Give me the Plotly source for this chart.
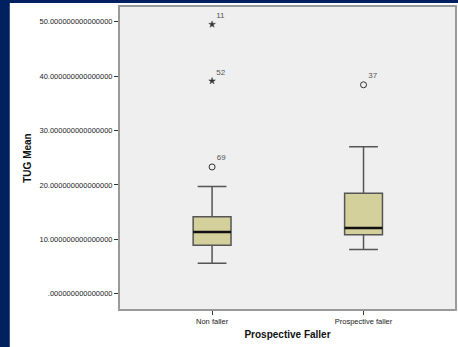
import plotly.graph_objects as go

categories = ["Non faller", "Prospective faller"]
q1 = [8.9, 10.85]
median = [11.35, 12.1]
q3 = [14.15, 18.45]
lower_whisker = [5.6, 8.15]
upper_whisker = [19.7, 27.0]

outlier_group = [0, 0, 0, 1]
outlier_value = [49.5, 39.1, 23.3, 38.4]
outlier_id = ["11", "52", "69", "37"]
outlier_extreme = [True, True, False, False]

y_ticks = [0, 10, 20, 30, 40, 50]
y_ticklabels = [".000000000000000" if v == 0 else f"{v}.000000000000000" for v in y_ticks]

FONT = "Liberation Sans, Arial, sans-serif"
BOX_W = 0.25
xs = list(range(len(categories)))

fig = go.Figure()
fig.add_trace(go.Box(
    x=xs, q1=q1, median=median, q3=q3,
    lowerfence=lower_whisker, upperfence=upper_whisker,
    width=BOX_W, whiskerwidth=0.76,
    fillcolor="#d4d09b", line=dict(color="#555555", width=1.5),
    boxpoints=False, showlegend=False, hoverinfo="skip",
))
for i, m in zip(xs, median):
    fig.add_trace(go.Scatter(
        x=[i - BOX_W / 2, i + BOX_W / 2], y=[m, m], mode="lines",
        line=dict(color="#111111", width=2.5), showlegend=False, hoverinfo="skip",
    ))

for extreme in (True, False):
    sel = [k for k in range(len(outlier_value)) if outlier_extreme[k] == extreme]
    fig.add_trace(go.Scatter(
        x=[outlier_group[k] for k in sel],
        y=[outlier_value[k] for k in sel],
        text=[outlier_id[k] for k in sel],
        mode="markers+text",
        textposition="top right",
        textfont=dict(family=FONT, size=8, color="#555555"),
        marker=dict(
            symbol="star" if extreme else "circle-open",
            size=5 if extreme else 6,
            color="#333333",
            line=dict(color="#444444", width=1 if not extreme else 0.5),
        ),
        showlegend=False, hoverinfo="skip",
    ))

shapes = [
    dict(type="rect", xref="paper", yref="paper", x0=-0.37, x1=-0.329, y0=-0.2, y1=1.1,
         fillcolor="#002060", line=dict(width=0), layer="above"),
    dict(type="rect", xref="paper", yref="paper", x0=-0.4, x1=1.1, y0=1.0132, y1=1.05,
         fillcolor="#002060", line=dict(width=0), layer="above"),
]

fig.update_layout(
    width=458, height=347,
    margin=dict(l=120, r=1, t=7, b=38),
    paper_bgcolor="white",
    plot_bgcolor="#efefef",
    font=dict(family=FONT, size=8, color="#222222"),
    shapes=shapes,
    xaxis=dict(
        range=[-0.608, 1.604], tickvals=xs, ticktext=categories,
        showgrid=False, zeroline=False,
        showline=True, mirror=True, linecolor="#9a9a9a", linewidth=2,
        ticks="outside", ticklen=4, tickcolor="#333333", tickwidth=1,
        tickfont=dict(size=7.5, color="#222222"),
        title=dict(text="<b>Prospective Faller</b>", font=dict(size=10, color="#111111"), standoff=6),
    ),
    yaxis=dict(
        range=[-2.8, 52.7], tickvals=y_ticks, ticktext=y_ticklabels,
        showgrid=False, zeroline=False,
        showline=True, mirror=True, linecolor="#9a9a9a", linewidth=2,
        ticks="outside", ticklen=4, tickcolor="#333333", tickwidth=1,
        tickfont=dict(size=7.5, color="#222222"),
        title=dict(text="<b>TUG Mean</b>", font=dict(size=10, color="#111111"), standoff=6),
    ),
)

fig.write_html(
    "out.html",
    config={"displayModeBar": False, "staticPlot": True},
    post_script="document.body.style.margin='0';document.body.style.overflow='hidden';",
)
